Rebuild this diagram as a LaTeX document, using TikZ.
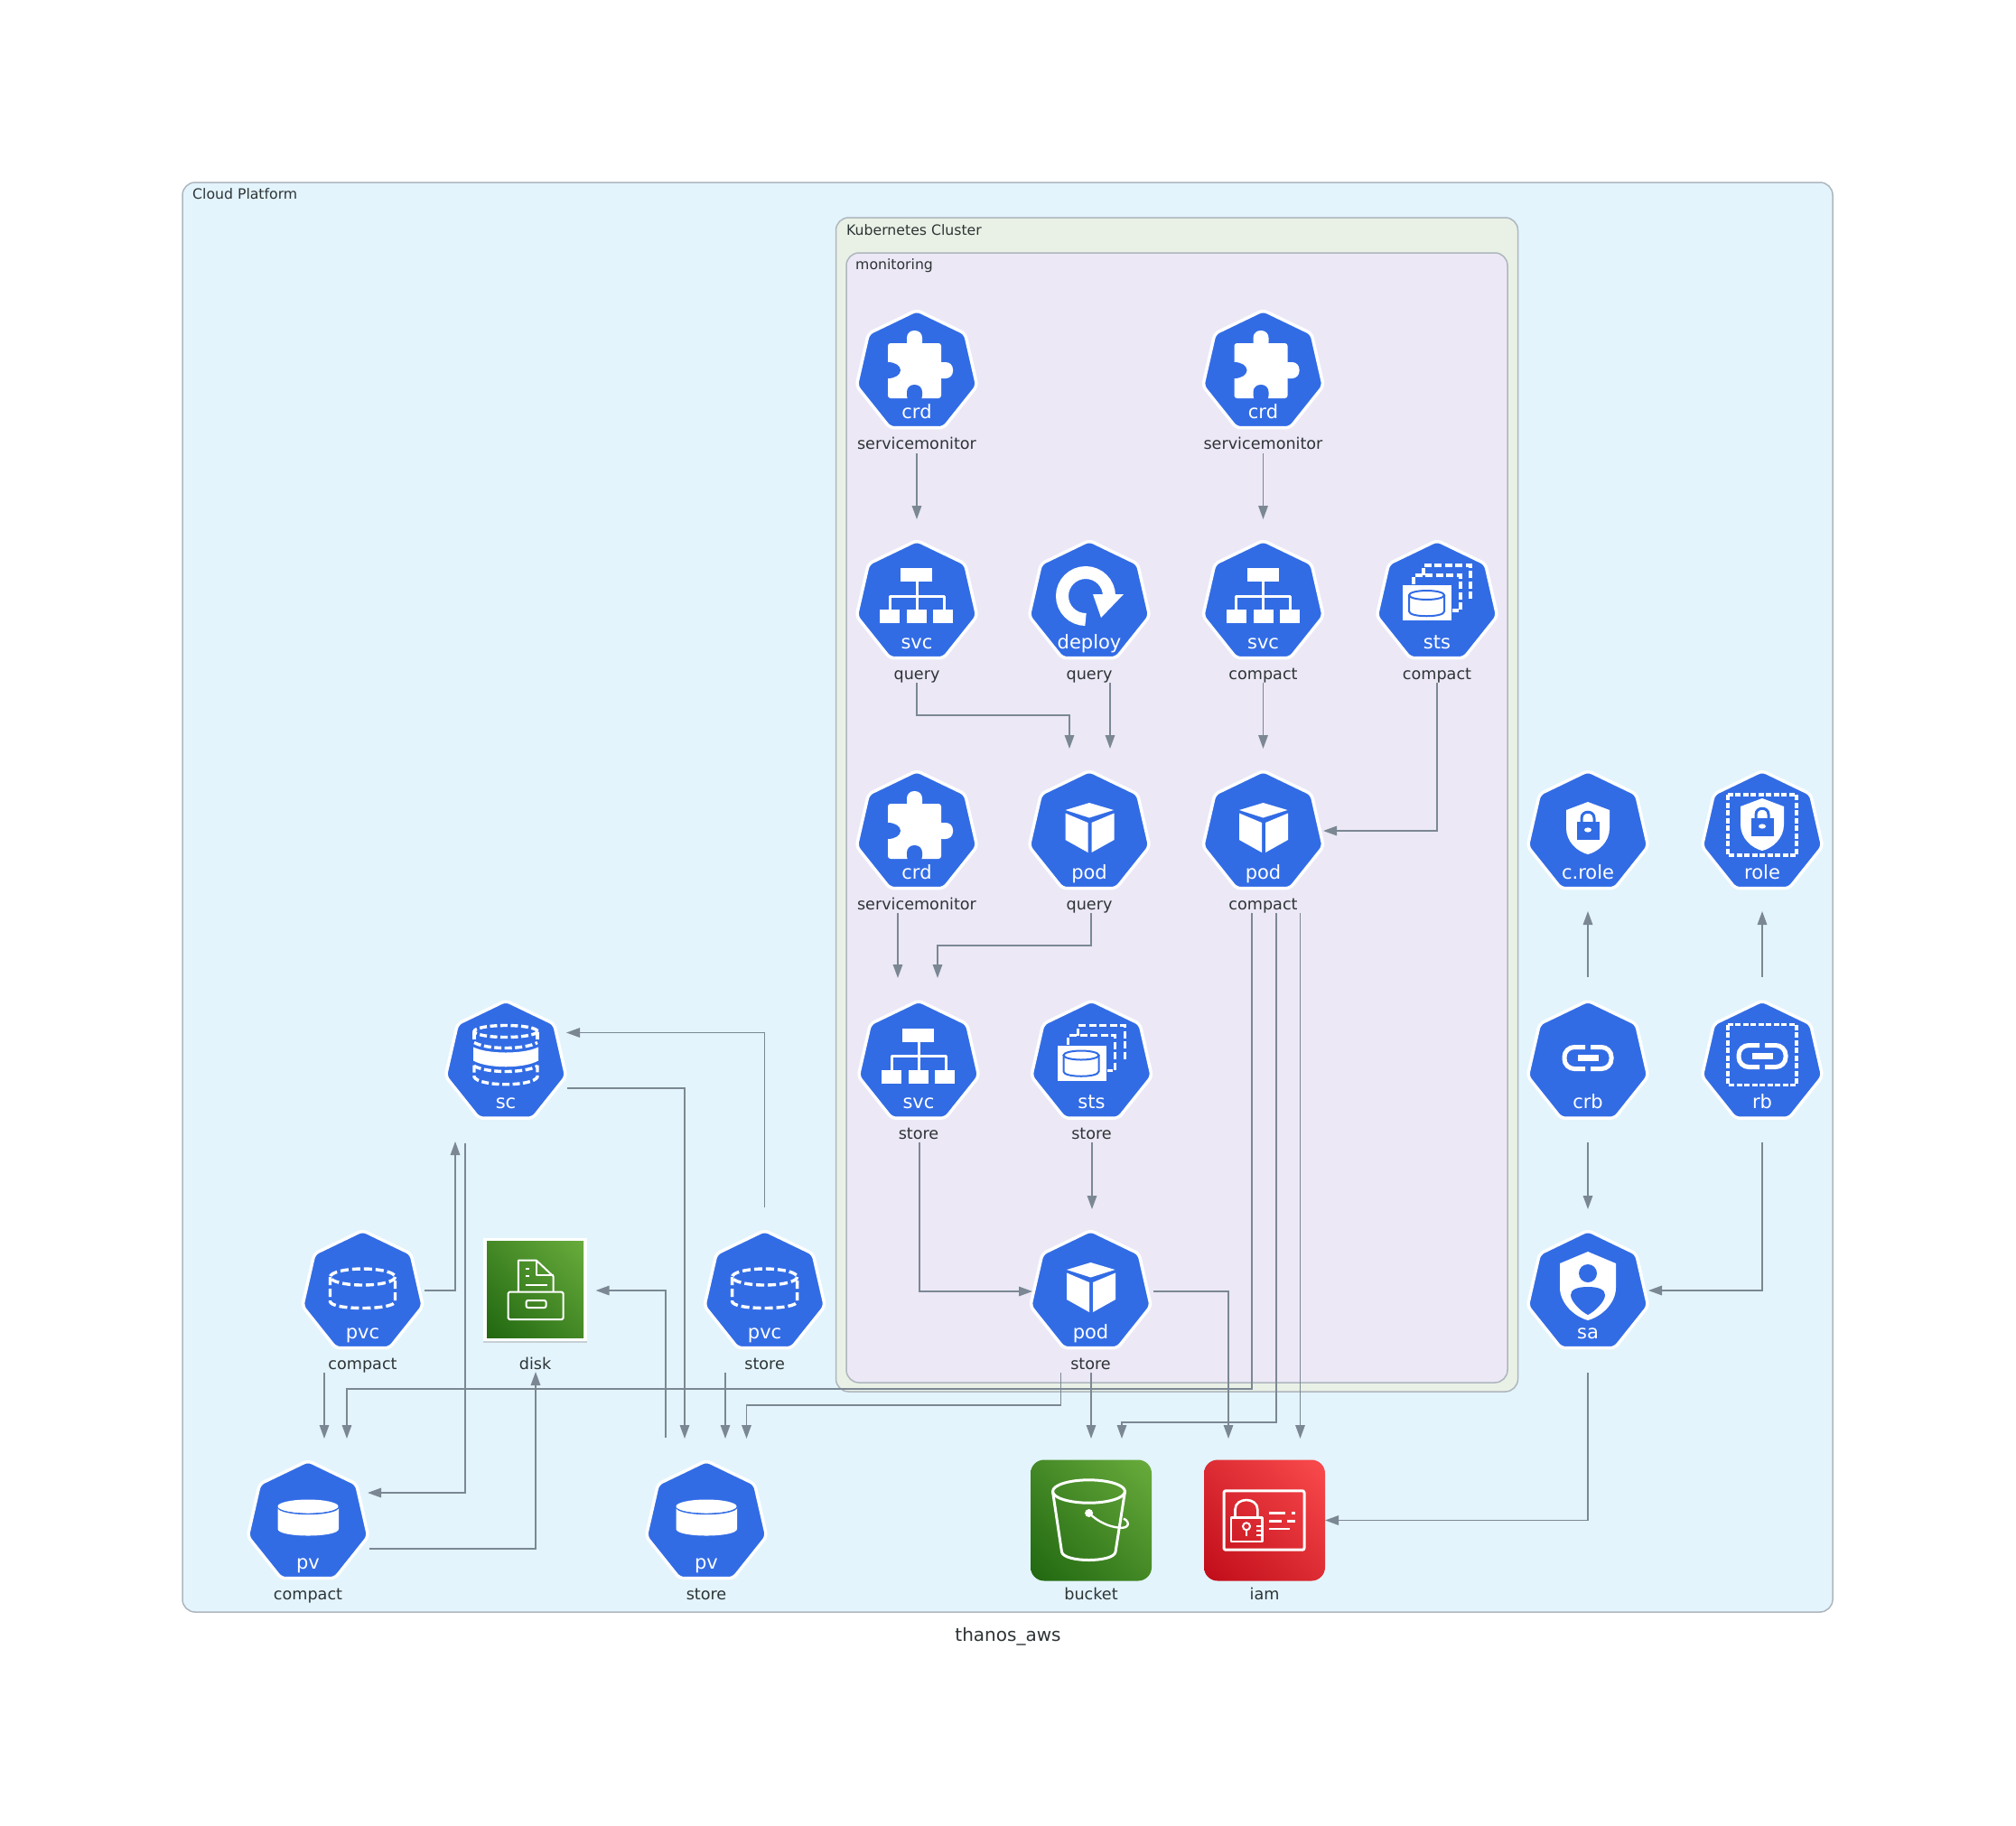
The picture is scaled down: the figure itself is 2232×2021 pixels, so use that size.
\documentclass[tikz,border=0pt]{standalone}
\usepackage{fontspec}
\setmainfont{DejaVu Sans}
\usetikzlibrary{arrows.meta,shapes.geometric,shadows,shadings}

\definecolor{kubeblue}{HTML}{326CE5}
\definecolor{edgegrey}{HTML}{7B8894}
\definecolor{boxline}{HTML}{AEB6BE}
\definecolor{inktext}{HTML}{2D3436}
\definecolor{cloudfill}{HTML}{E3F4FC}
\definecolor{clusterfill}{HTML}{E9F1E6}
\definecolor{nsfill}{HTML}{ECE8F6}
\definecolor{greenlow}{RGB}{32,103,16}
\definecolor{greenmid}{RGB}{68,137,38}
\definecolor{greenhigh}{RGB}{105,172,60}
\definecolor{redlow}{RGB}{192,12,25}
\definecolor{redmid}{RGB}{221,44,51}
\definecolor{redhigh}{RGB}{250,75,77}

\tikzset{
  hex/.style={regular polygon,regular polygon sides=7,minimum size=137pt,inner sep=0pt,outer sep=0pt,
    fill=kubeblue,draw=white,line width=3.5pt,rounded corners=5pt},
  kindtext/.style={anchor=base,yshift=-51pt,text=white,font=\fontsize{21}{24}\selectfont},
  captext/.style={anchor=base,yshift=-85pt,text=inktext,font=\fontsize{17.6}{20}\selectfont},
  boxtext/.style={anchor=base west,inner sep=0pt,text=inktext,font=\fontsize{15.7}{18}\selectfont},
  flow/.style={draw=edgegrey,line width=1.6pt,-{Triangle[length=15pt,width=10.5pt]}},
  clusterbox/.style={draw=boxline,line width=1.5pt,rounded corners=14pt},
  awsgreen/.style={minimum size=134pt,inner sep=0pt,outer sep=0pt,rounded corners=15pt,
    lower left=greenlow,upper right=greenhigh,upper left=greenmid,lower right=greenmid},
  awsred/.style={minimum size=134pt,inner sep=0pt,outer sep=0pt,rounded corners=15pt,
    lower left=redlow,upper right=redhigh,upper left=redmid,lower right=redmid},
  iconline/.style={draw=white,line width=3pt,line join=round},
  dashline/.style={draw=white,line width=3.4pt,dash pattern=on 9pt off 4pt},
  puzzle/.pic={
    \fill[white,rounded corners=3pt] (-32,-32) rectangle (27,29);
    \fill[white,rounded corners=8pt] (-11,-46) rectangle (6,-25);
    \fill[white,rounded corners=8pt] (20,-11) rectangle (40,7);
    \fill[kubeblue] (-32,-2) ellipse (14 and 9);
    \fill[kubeblue,rounded corners=8pt] (-11,14) rectangle (6,34);
  },
  svctree/.pic={
    \fill[white] (-18,-38) rectangle (17,-23);
    \draw[iconline] (0,-23) -- (0,8);
    \draw[iconline] (-30,8) -- (-30,-7) -- (30,-7) -- (30,8);
    \fill[white] (-41,8) rectangle (-19,23);
    \fill[white] (-11,8) rectangle (11,23);
    \fill[white] (18,8) rectangle (40,23);
  },
  turnarrow/.pic={
    \draw[white,line width=14pt] (-4,19) arc[start angle=90,end angle=360,radius=26];
    \fill[white] (4,-9) -- (38,-9) -- (13,17) -- cycle;
  },
  stsstack/.pic={
    \draw[dashline,dash pattern=on 8pt off 3.5pt] (-15,-30) -- (-15,-41) -- (37,-41) -- (37,-2);
    \draw[dashline,dash pattern=on 8pt off 3.5pt] (-26,-20) -- (-26,-30) -- (26,-30) -- (26,9) -- (17,9);
    \fill[white] (-38,-19) rectangle (16,20);
    \draw[kubeblue,line width=2pt] (-11.5,-8) ellipse (19.5 and 5);
    \draw[kubeblue,line width=2pt] (-31,-8) -- (-31,10) .. controls (-31,17) and (8,17) .. (8,10) -- (8,-8);
  },
  cubeicon/.pic={
    \fill[white] (0,-33) -- (27,-25) -- (0,-16.5) -- (-26.5,-25) -- cycle;
    \fill[white] (-26.5,-21.5) -- (-1.5,-11) -- (-1.5,22) -- (-26.5,8) -- cycle;
    \fill[white] (27.5,-21.5) -- (2.5,-11) -- (2.5,22) -- (27.5,8) -- cycle;
  },
  dashcyl/.pic={
    \draw[dashline] (0,-17) ellipse (36 and 9);
    \draw[dashline] (-36,-17) -- (-36,10) .. controls (-36,20) and (36,20) .. (36,10) -- (36,-17);
  },
  scstack/.pic={
    \draw[dashline,dash pattern=on 8pt off 3.5pt] (0,-34.5) ellipse (35 and 6.5);
    \draw[dashline,dash pattern=on 8pt off 3.5pt] (-35,-34) -- (-35,-24);
    \draw[dashline,dash pattern=on 8pt off 3.5pt] (35,-34) -- (35,-24);
    \draw[dashline,dash pattern=on 8pt off 3.5pt] (-35,-22) .. controls (-20,-14) and (20,-14) .. (35,-22);
    \fill[white] (-36,-17) .. controls (-20,-9) and (20,-9) .. (36,-17) -- (36,-2) .. controls (20,7) and (-20,7) .. (-36,-2) -- cycle;
    \draw[dashline,dash pattern=on 8pt off 3.5pt] (-35,4) .. controls (-20,12) and (20,12) .. (35,4);
    \draw[dashline,dash pattern=on 8pt off 3.5pt] (-35,3) -- (-35,16) .. controls (-30,27) and (30,27) .. (35,16) -- (35,3);
  },
  solidcyl/.pic={
    \fill[white] (-33.5,-18) -- (-33.5,7) .. controls (-33.5,17) and (34,17) .. (34,7) -- (34,-18) -- cycle;
    \draw[kubeblue,line width=1.8pt] (-33.5,-18) .. controls (-33.5,-7) and (34,-7) .. (34,-18);
    \fill[white] (0,-18) ellipse (33.5 and 7.5);
  },
  shieldlock/.pic={
    \fill[white] (0,-34) -- (24,-25) -- (24,-5) .. controls (24,10) and (12,21) .. (0,24) .. controls (-12,21) and (-24,10) .. (-24,-5) -- (-24,-25) -- cycle;
    \fill[kubeblue] (-12,-12) rectangle (12.5,8);
    \draw[kubeblue,line width=3pt] (-7,-12) -- (-7,-16) .. controls (-7,-25) and (7,-25) .. (7,-16) -- (7,-12);
    \fill[white] (0,-3) ellipse (4 and 2.6);
  },
  dashframe/.pic={
    \draw[white,line width=3.2pt,dash pattern=on 6pt off 2.5pt] (-38,-42) rectangle (38,25);
  },
  chainlink/.pic={
    \draw[white,line width=5pt,rounded corners=11pt] (-3,-12) -- (-26,-12) -- (-26,12) -- (-3,12);
    \draw[white,line width=5pt,rounded corners=11pt] (3,-12) -- (26,-12) -- (26,12) -- (3,12);
    \draw[white,line width=6.5pt] (-11,0) -- (12,0);
  },
  userbadge/.pic={
    \fill[white] (0,-45) -- (31,-32) -- (31,-5) .. controls (31,12) and (15,27) .. (0,31) .. controls (-15,27) and (-31,12) .. (-31,-5) -- (-31,-32) -- cycle;
    \fill[kubeblue] (0,-21) circle (10);
    \fill[kubeblue] (0,-6) .. controls (12,-6) and (19,-3) .. (19,3) .. controls (19,10) and (8,21) .. (0,25) .. controls (-8,21) and (-19,10) .. (-19,3) .. controls (-19,-3) and (-12,-6) .. (0,-6) -- cycle;
  },
  cabinet/.pic={
    \draw[iconline,line width=2pt] (-18.8,2) -- (-18.8,-32.3) -- (1.3,-32.3) -- (20,-14.7) -- (20,2);
    \draw[iconline,line width=2pt] (1.3,-32.3) -- (1.3,-15.7) -- (20,-15.7);
    \draw[iconline,line width=2pt] (-11,-23) -- (-6.7,-23);
    \draw[iconline,line width=2pt] (-11,-14.7) -- (-6.7,-14.7);
    \draw[iconline,line width=2pt] (-11,-5.3) -- (13.4,-5.3);
    \draw[iconline,line width=2pt,rounded corners=1.5pt] (-30,2.7) rectangle (31,33);
    \draw[iconline,line width=2pt,rounded corners=2pt] (-10,12) rectangle (12,20);
  },
  pail/.pic={
    \draw[iconline] (-2.5,-32) ellipse (40 and 12.7);
    \draw[iconline] (-42.5,-32) -- (-32.5,35) .. controls (-30,47) and (25,47) .. (27,35) -- (37.5,-32);
    \fill[white] (-2.4,-8) circle (4.5);
    \draw[iconline,line width=2.4pt] (-2.4,-8) .. controls (8,2) and (20,7) .. (30,8) .. controls (42,10) and (44,2) .. (36,-2);
  },
  idcard/.pic={
    \draw[iconline,rounded corners=2pt] (-45,-32.7) rectangle (44,32.7);
    \draw[iconline,line width=2.6pt] (-37,-3.3) rectangle (-2.5,23.3);
    \draw[iconline,line width=2.6pt] (-32.5,-3.3) -- (-32.5,-12) .. controls (-32.5,-26) and (-7.7,-26) .. (-7.7,-12) -- (-7.7,-3.3);
    \draw[iconline,line width=2pt] (-20,6.7) circle (4);
    \draw[iconline,line width=2.4pt] (-20,10.7) -- (-20,17);
    \draw[iconline,line width=2pt] (-9,6.5) -- (-3,6.5);
    \draw[iconline,line width=2pt] (-9,11.5) -- (-3,11.5);
    \draw[iconline,line width=2pt] (-9,16.5) -- (-3,16.5);
    \draw[iconline,line width=2.6pt] (5,-8.3) -- (23,-8.3);
    \draw[iconline,line width=2.6pt] (30,-8.3) -- (34,-8.3);
    \draw[iconline,line width=2.6pt] (5,0.7) -- (19,0.7);
    \draw[iconline,line width=2.6pt] (25,0.7) -- (34,0.7);
    \draw[iconline,line width=2.6pt] (5,9.3) -- (28,9.3);
  },
}

\begin{document}
\begin{tikzpicture}[x=1pt,y=-1pt]

\useasboundingbox (0,0) rectangle (2232,2021);

% clusters
\draw[clusterbox,fill=cloudfill] (202,202) rectangle (2029,1785);
\draw[clusterbox,fill=clusterfill] (925.5,241) rectangle (1680.5,1541);
\draw[clusterbox,fill=nsfill] (937,280) rectangle (1669,1531);
\node[boxtext] (cloudname) at (213,220.5) {Cloud Platform};
\node[boxtext] (clustername) at (937,260) {Kubernetes Cluster};
\node[boxtext] (nsname) at (947,298) {monitoring};
\node[anchor=base,text=inktext,font=\fontsize{20}{24}\selectfont] (title) at (1116,1817) {thanos\_aws};

% first row
\node[hex] (crdquery) at (1015,412) {};
\pic at (crdquery.center) {puzzle};
\node[kindtext] (crdquerykind) at (crdquery.center) {crd};
\node[captext] (crdquerycap) at (crdquery.center) {servicemonitor};
\node[hex] (crdcompact) at (1398.5,412) {};
\pic at (crdcompact.center) {puzzle};
\node[kindtext] (crdcompactkind) at (crdcompact.center) {crd};
\node[captext] (crdcompactcap) at (crdcompact.center) {servicemonitor};

% second row
\node[hex] (svcquery) at (1015,667) {};
\pic at (svcquery.center) {svctree};
\node[kindtext] (svcquerykind) at (svcquery.center) {svc};
\node[captext] (svcquerycap) at (svcquery.center) {query};
\node[hex] (deployquery) at (1206,667) {};
\pic at (deployquery.center) {turnarrow};
\node[kindtext] (deployquerykind) at (deployquery.center) {deploy};
\node[captext] (deployquerycap) at (deployquery.center) {query};
\node[hex] (svccompact) at (1398.5,667) {};
\pic at (svccompact.center) {svctree};
\node[kindtext] (svccompactkind) at (svccompact.center) {svc};
\node[captext] (svccompactcap) at (svccompact.center) {compact};
\node[hex] (stscompact) at (1591,667) {};
\pic at (stscompact.center) {stsstack};
\node[kindtext] (stscompactkind) at (stscompact.center) {sts};
\node[captext] (stscompactcap) at (stscompact.center) {compact};

% third row
\node[hex] (crdstore) at (1015,922) {};
\pic at (crdstore.center) {puzzle};
\node[kindtext] (crdstorekind) at (crdstore.center) {crd};
\node[captext] (crdstorecap) at (crdstore.center) {servicemonitor};
\node[hex] (podquery) at (1206,922) {};
\pic at (podquery.center) {cubeicon};
\node[kindtext] (podquerykind) at (podquery.center) {pod};
\node[captext] (podquerycap) at (podquery.center) {query};
\node[hex] (podcompact) at (1398.5,922) {};
\pic at (podcompact.center) {cubeicon};
\node[kindtext] (podcompactkind) at (podcompact.center) {pod};
\node[captext] (podcompactcap) at (podcompact.center) {compact};
\node[hex] (crole) at (1758,922) {};
\pic at (crole.center) {shieldlock};
\node[kindtext] (crolekind) at (crole.center) {c.role};
\node[hex] (role) at (1951,922) {};
\pic at ([shift={(0,-4)}]role.center) {shieldlock};
\pic at (role.center) {dashframe};
\node[kindtext] (rolekind) at (role.center) {role};

% fourth row
\node[hex] (sc) at (560,1176.5) {};
\pic at (sc.center) {scstack};
\node[kindtext] (sckind) at (sc.center) {sc};
\node[hex] (svcstore) at (1017,1176.5) {};
\pic at (svcstore.center) {svctree};
\node[kindtext] (svcstorekind) at (svcstore.center) {svc};
\node[captext] (svcstorecap) at (svcstore.center) {store};
\node[hex] (stsstore) at (1208.5,1176.5) {};
\pic at (stsstore.center) {stsstack};
\node[kindtext] (stsstorekind) at (stsstore.center) {sts};
\node[captext] (stsstorecap) at (stsstore.center) {store};
\node[hex] (crb) at (1758,1176.5) {};
\pic at ([shift={(0,-5)}]crb.center) {chainlink};
\node[kindtext] (crbkind) at (crb.center) {crb};
\node[hex] (rb) at (1951,1176.5) {};
\pic at ([shift={(0,-7)}]rb.center) {chainlink};
\pic at (rb.center) {dashframe};
\node[kindtext] (rbkind) at (rb.center) {rb};

% fifth row
\node[hex] (pvccompact) at (401.5,1431) {};
\pic at (pvccompact.center) {dashcyl};
\node[kindtext] (pvccompactkind) at (pvccompact.center) {pvc};
\node[captext] (pvccompactcap) at (pvccompact.center) {compact};
\node[fill=white,minimum size=114.5pt,inner sep=0pt,outer sep=0pt,drop shadow={shadow xshift=0pt,shadow yshift=-2pt,opacity=0.3}] (diskframe) at (592.6,1428) {};
\node[awsgreen,minimum size=107pt,rounded corners=0pt] (disk) at (diskframe.center) {};
\pic at (disk.center) {cabinet};
\node[captext] (diskcap) at ([yshift=-3pt]disk.center) {disk};
\node[hex] (pvcstore) at (846.6,1431) {};
\pic at (pvcstore.center) {dashcyl};
\node[kindtext] (pvcstorekind) at (pvcstore.center) {pvc};
\node[captext] (pvcstorecap) at (pvcstore.center) {store};
\node[hex] (podstore) at (1207.5,1431) {};
\pic at (podstore.center) {cubeicon};
\node[kindtext] (podstorekind) at (podstore.center) {pod};
\node[captext] (podstorecap) at (podstore.center) {store};
\node[hex] (sa) at (1758,1431) {};
\pic at (sa.center) {userbadge};
\node[kindtext] (sakind) at (sa.center) {sa};

% sixth row
\node[hex] (pvcompact) at (341,1686) {};
\pic at (pvcompact.center) {solidcyl};
\node[kindtext] (pvcompactkind) at (pvcompact.center) {pv};
\node[captext] (pvcompactcap) at (pvcompact.center) {compact};
\node[hex] (pvstore) at (782,1686) {};
\pic at (pvstore.center) {solidcyl};
\node[kindtext] (pvstorekind) at (pvstore.center) {pv};
\node[captext] (pvstorecap) at (pvstore.center) {store};
\node[awsgreen] (bucket) at (1208,1683.5) {};
\pic at (bucket.center) {pail};
\node[captext] (bucketcap) at ([yshift=-2.5pt]bucket.center) {bucket};
\node[awsred] (iam) at (1400,1683.5) {};
\pic at (iam.center) {idcard};
\node[captext] (iamcap) at ([yshift=-2.5pt]iam.center) {iam};

% connectors
\draw[flow] ([shift={(0,90)}]crdquery.center) -- ([shift={(0,-92)}]svcquery.center);
\draw[flow] ([shift={(0,90)}]crdcompact.center) -- ([shift={(0,-92)}]svccompact.center);
\draw[flow] ([shift={(0,89)}]svcquery.center) -- ++(0,36) -| ([shift={(-22,-93)}]podquery.center);
\draw[flow] ([shift={(23,89)}]deployquery.center) -- ([shift={(23,-93)}]podquery.center);
\draw[flow] ([shift={(0,89)}]svccompact.center) -- ([shift={(0,-93)}]podcompact.center);
\draw[flow] ([shift={(0,89)}]stscompact.center) |- ([shift={(66.5,-2)}]podcompact.center);
\draw[flow] ([shift={(-21,89)}]crdstore.center) -- ([shift={(-23,-93.5)}]svcstore.center);
\draw[flow] ([shift={(2,89)}]podquery.center) -- ++(0,36) -| ([shift={(21,-93.5)}]svcstore.center);
\draw[flow] ([shift={(-12.5,89)}]podcompact.center) -- ++(0,527) -| ([shift={(43,-93)}]pvcompact.center);
\draw[flow] ([shift={(14.5,89)}]podcompact.center) -- ++(0,563.7) -| ([shift={(34,-90.5)}]bucket.center);
\draw[flow] ([shift={(41,89)}]podcompact.center) -- ([shift={(39.5,-90.5)}]iam.center);
\draw[flow] ([shift={(0.5,89)}]podstore.center) -- ([shift={(0,-90.5)}]bucket.center);
\draw[flow] ([shift={(-33,89)}]podstore.center) -- ++(0,36) -| ([shift={(44.5,-93)}]pvstore.center);
\draw[flow] ([shift={(69.5,-1)}]podstore.center) -| ([shift={(-40,-90.5)}]iam.center);
\draw[flow] ([shift={(1,88.5)}]svcstore.center) |- ([shift={(-64.5,-1)}]podstore.center);
\draw[flow] ([shift={(0.5,88.5)}]stsstore.center) -- ([shift={(1.5,-92)}]podstore.center);
\draw[flow] ([shift={(67.5,28.5)}]sc.center) -| ([shift={(-24,-93)}]pvstore.center);
\draw[flow] ([shift={(0,-94)}]pvcstore.center) |- ([shift={(67,-33)}]sc.center);
\draw[flow] ([shift={(68,-2)}]pvccompact.center) -| ([shift={(-56,87.5)}]sc.center);
\draw[flow] ([shift={(-45,89.5)}]sc.center) |- ([shift={(66,-33)}]pvcompact.center);
\draw[flow] ([shift={(67.7,28.7)}]pvcompact.center) -| ([shift={(0.4,91)}]disk.center);
\draw[flow] ([shift={(-45,-94)}]pvstore.center) |- ([shift={(67,1)}]disk.center);
\draw[flow] ([shift={(-42.5,89)}]pvccompact.center) -- ([shift={(18,-93)}]pvcompact.center);
\draw[flow] ([shift={(-43.6,89)}]pvcstore.center) -- ([shift={(21,-93)}]pvstore.center);
\draw[flow] ([shift={(0,-94.5)}]crb.center) -- ([shift={(0,87)}]crole.center);
\draw[flow] ([shift={(0,-94.5)}]rb.center) -- ([shift={(0,87)}]role.center);
\draw[flow] ([shift={(0,88.5)}]crb.center) -- ([shift={(0,-92)}]sa.center);
\draw[flow] ([shift={(0,88.5)}]rb.center) |- ([shift={(67,-2)}]sa.center);
\draw[flow] ([shift={(0,89)}]sa.center) |- ([shift={(67,0)}]iam.center);

\end{tikzpicture}
\end{document}
